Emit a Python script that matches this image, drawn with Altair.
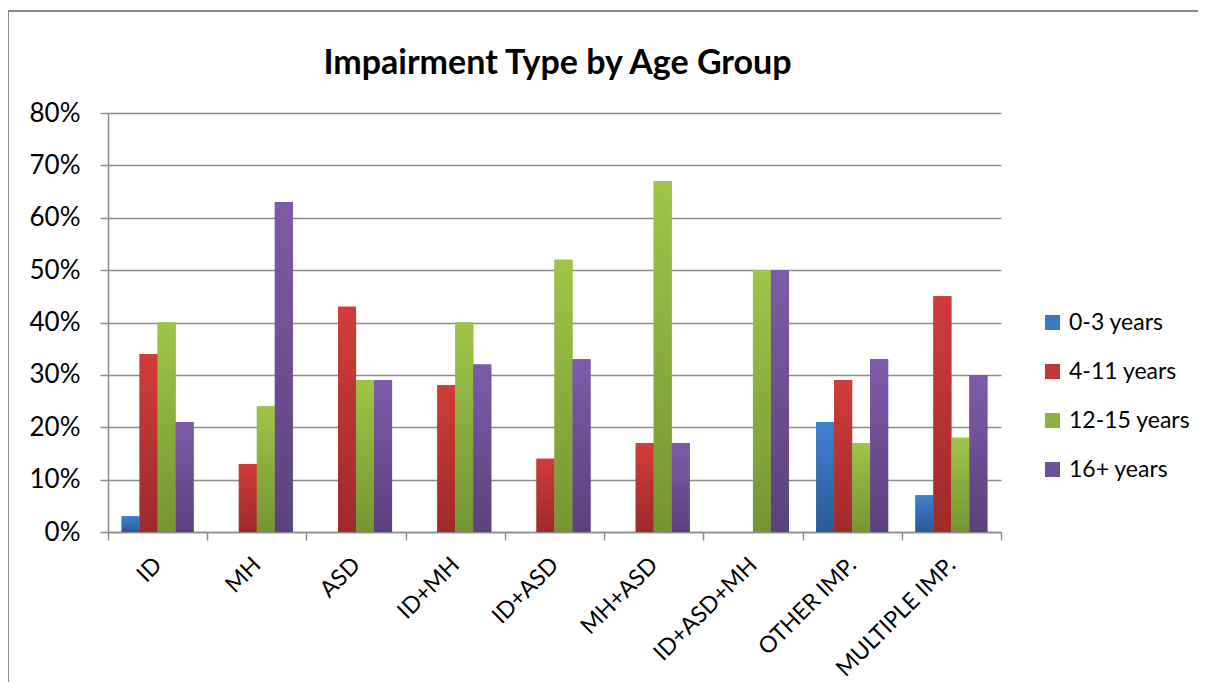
import altair as alt
import pandas as pd

title_text = "Impairment Type by Age Group"
categories = ["ID", "MH", "ASD", "ID+MH", "ID+ASD", "MH+ASD", "ID+ASD+MH", "OTHER IMP.", "MULTIPLE IMP."]
series = ["0-3 years", "4-11 years", "12-15 years", "16+ years"]
age_0_3 = [3, 0, 0, 0, 0, 0, 0, 21, 7]
age_4_11 = [34, 13, 43, 28, 14, 17, 0, 29, 45]
age_12_15 = [40, 24, 29, 40, 52, 67, 50, 17, 18]
age_16_plus = [21, 63, 29, 32, 33, 17, 50, 33, 30]
y_ticks = [0, 0.1, 0.2, 0.3, 0.4, 0.5, 0.6, 0.7, 0.8]

solid = ["#3A78C3", "#C0393A", "#8DB443", "#6F5097"]
tops = ["#3F80D0", "#D03D3A", "#9EC548", "#7D5AA8"]
bottoms = ["#2B5B96", "#9E2A2A", "#759534", "#5D417D"]

rows = []
for s, vals in zip(series, [age_0_3, age_4_11, age_12_15, age_16_plus]):
    for c, v in zip(categories, vals):
        rows.append({"category": c, "series": s, "value": v / 100})
df = pd.DataFrame(rows)

FONT = "Lato"
GRAY = "#8c8c8c"
W, H = 893, 419

x = alt.X(
    "category:N",
    sort=categories,
    scale=alt.Scale(domain=categories, paddingInner=0, paddingOuter=0),
    axis=alt.Axis(
        title=None, labelAngle=-45, labelAlign="right", labelBaseline="middle",
        labelFontSize=23, labelFont=FONT, labelColor="black", labelPadding=21,
        tickBand="extent", tickSize=8, tickColor=GRAY, tickWidth=1.5,
        domainColor=GRAY, domainWidth=1.5, grid=False, labelOverlap=False,
    ),
)
xo = alt.XOffset("series:N", sort=series,
                 scale=alt.Scale(domain=series, paddingInner=0, paddingOuter=0.756))
y = alt.Y(
    "value:Q",
    scale=alt.Scale(domain=[0, 0.8], nice=False),
    axis=alt.Axis(
        title=None, format="%", values=y_ticks, labelFontSize=26, labelFont=FONT,
        labelColor="black", labelPadding=20, tickSize=8, tickColor=GRAY, tickWidth=1.5,
        domainColor=GRAY, domainWidth=1.5, gridColor=GRAY, gridWidth=1.5,
    ),
)

one = pd.DataFrame({"k": [0]})
frame_top = alt.Chart(one).mark_rule(color="#8a8a8a", strokeWidth=2).encode(
    x=alt.value(-100), x2=alt.value(1100), y=alt.value(-102))
frame_left = alt.Chart(one).mark_rule(color="#8a8a8a", strokeWidth=2).encode(
    x=alt.value(-100), y=alt.value(-102), y2=alt.value(580))
title = alt.Chart(one).mark_text(
    font=FONT, fontSize=34, fontWeight="bold", color="black",
    align="center", baseline="alphabetic",
).encode(x=alt.value(W / 2 + 3), y=alt.value(-39), text=alt.value(title_text))

base = alt.Chart(df).mark_bar().encode(
    x=x, xOffset=xo, y=y,
    color=alt.Color(
        "series:N", sort=series,
        scale=alt.Scale(domain=series, range=solid),
        legend=alt.Legend(
            title=None, orient="none", legendX=933, legendY=198,
            symbolType="square", symbolSize=225, symbolStrokeWidth=0,
            labelFontSize=23, labelFont=FONT, labelColor="black",
            rowPadding=25, labelOffset=5,
        ),
    ),
)

layers = [frame_top, frame_left, title, base]
for s, t, b in zip(series, tops, bottoms):
    grad = alt.Gradient(
        gradient="linear",
        stops=[alt.GradientStop(color=t, offset=0), alt.GradientStop(color=b, offset=1)],
        x1=0, x2=0, y1=0, y2=1,
    )
    layers.append(
        alt.Chart(df).transform_filter(alt.datum.series == s)
        .mark_bar(color=grad).encode(x=x, xOffset=xo, y=y)
    )

chart = alt.layer(*layers).properties(
    width=W,
    height=H,
    autosize=alt.AutoSizeParams(type="none"),
    padding={"left": 100, "top": 105, "right": 197, "bottom": 150},
).configure_view(strokeWidth=0)

chart.save("out.html", embed_options={"renderer": "svg", "actions": False})
